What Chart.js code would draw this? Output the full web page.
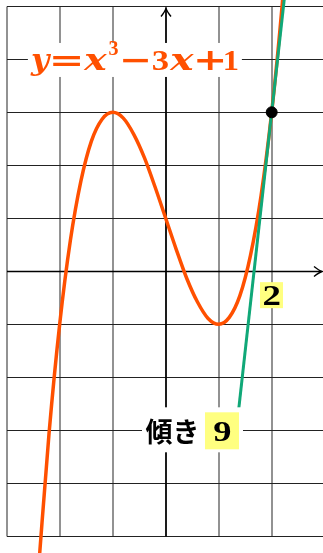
<!DOCTYPE html>
<html>
<head>
<meta charset="utf-8">
<script src="https://cdn.jsdelivr.net/npm/chart.js@4.4.1/dist/chart.umd.min.js"></script>
<style>
html, body { margin: 0; padding: 0; background: #fff; overflow: hidden; }
#wrap { width: 323px; height: 553px; }
</style>
</head>
<body>
<div id="wrap"><canvas id="chart"></canvas></div>
<script>
// y = x^3 - 3x + 1
var curveX = [-2.4, -2.2, -2.0, -1.8, -1.6, -1.4, -1.2, -1.0, -0.8, -0.6, -0.4, -0.2, 0,
              0.2, 0.4, 0.6, 0.8, 1.0, 1.2, 1.4, 1.6, 1.8, 2.0, 2.2, 2.4];
var curveY = [-5.62, -3.05, -1.00, 0.57, 1.70, 2.46, 2.87, 3.00, 2.89, 2.58, 2.14, 1.59, 1.00,
              0.41, -0.14, -0.58, -0.89, -1.00, -0.87, -0.46, 0.30, 1.43, 3.00, 5.05, 7.62];

// tangent at x = 2, slope 9
var tangentX = [1.376, 2.3];
var tangentY = [-2.62, 5.7];

var pointX = [2];
var pointY = [3];

var gridX = [-3, -2, -1, 0, 1, 2, 3];
var gridY = [-5, -4, -3, -2, -1, 0, 1, 2, 3, 4, 5];

var slopeText = '傾き';
var slopeValue = '9';
var pointLabel = '2';

function pairs(xs, ys)
{
    return xs.map(function (x, i)
    {
        return { x: x, y: ys[i] };
    });
}

// draws text centred on cx, stretched to width w
function fitted(ctx, text, font, cx, base, w)
{
    ctx.save();
    ctx.font = font;
    ctx.textAlign = 'left';
    var m = ctx.measureText(text);
    var gw = m.actualBoundingBoxLeft + m.actualBoundingBoxRight;
    var c = (m.actualBoundingBoxRight - m.actualBoundingBoxLeft) / 2;
    ctx.translate(cx, base);
    ctx.scale(w ? w / gw : 1, 1);
    ctx.fillText(text, -c, 0);
    ctx.restore();
}

var digits = '"Liberation Serif", serif';
var letters = '"DejaVu Serif", serif';

var gridPlugin = {
    id: 'grid',
    beforeDatasetsDraw: function (chart)
    {
        var ctx = chart.ctx, sx = chart.scales.x, sy = chart.scales.y;
        var left = Math.round(sx.getPixelForValue(gridX[0]));
        var right = chart.chartArea.right;
        var top = Math.round(sy.getPixelForValue(gridY[gridY.length - 1])) + 0.5;
        var bottom = Math.round(sy.getPixelForValue(gridY[0])) + 0.5;

        ctx.save();
        ctx.lineWidth = 1.6;
        ctx.strokeStyle = '#777';
        gridX.forEach(function (v)
        {
            var px = Math.round(sx.getPixelForValue(v));
            ctx.beginPath();
            ctx.moveTo(px, top);
            ctx.lineTo(px, bottom);
            ctx.stroke();
        });

        ctx.lineWidth = 1.2;
        ctx.strokeStyle = '#222';
        gridY.forEach(function (v)
        {
            var py = Math.round(sy.getPixelForValue(v)) + 0.5;
            ctx.beginPath();
            ctx.moveTo(left, py);
            ctx.lineTo(right, py);
            ctx.stroke();
        });

        // axes with arrow heads
        var ox = Math.round(sx.getPixelForValue(0));
        var oy = Math.round(sy.getPixelForValue(0)) + 0.5;
        ctx.strokeStyle = '#000';
        ctx.lineWidth = 1.6;
        ctx.beginPath();
        ctx.moveTo(left, oy);
        ctx.lineTo(right - 1.5, oy);
        ctx.moveTo(ox, bottom);
        ctx.lineTo(ox, top + 2);
        ctx.stroke();

        ctx.lineWidth = 1.4;
        ctx.beginPath();
        ctx.moveTo(right - 9, oy - 5);
        ctx.quadraticCurveTo(right - 4, oy - 1, right - 1, oy);
        ctx.quadraticCurveTo(right - 4, oy + 1, right - 9, oy + 5);
        ctx.moveTo(ox - 5, top + 10);
        ctx.quadraticCurveTo(ox - 1, top + 5, ox, top + 2);
        ctx.quadraticCurveTo(ox + 1, top + 5, ox + 5, top + 10);
        ctx.stroke();
        ctx.restore();
    }
};

var labelPlugin = {
    id: 'labels',
    afterDatasetsDraw: function (chart)
    {
        var ctx = chart.ctx, sx = chart.scales.x, sy = chart.scales.y;
        ctx.save();
        ctx.textBaseline = 'alphabetic';

        // formula
        var fx = sx.getPixelForValue(-0.6), fy = sy.getPixelForValue(3.95);
        ctx.fillStyle = '#fff';
        ctx.fillRect(fx - 106, fy - 19, 214, 34);
        ctx.fillStyle = '#ff5000';
        fitted(ctx, 'y', 'italic bold 30px ' + letters, fx - 92.9, fy + 8.5, 22);
        fitted(ctx, '=', 'bold 30px ' + letters, fx - 67.4, fy + 8.5, 27);
        fitted(ctx, 'x', 'italic bold 30px ' + letters, fx - 38.4, fy + 8.5, 25);
        fitted(ctx, '3', 'bold 22px ' + digits, fx - 20.4, fy - 7, 10);
        fitted(ctx, '\u2212', 'bold 30px ' + letters, fx + 1.6, fy + 8.5, 25);
        fitted(ctx, '3', 'bold 30px ' + digits, fx + 26.6, fy + 8.5, 15);
        fitted(ctx, 'x', 'italic bold 30px ' + letters, fx + 48.1, fy + 8.5, 26);
        fitted(ctx, '+', 'bold 30px ' + letters, fx + 76.1, fy + 8.5, 26);
        fitted(ctx, '1', 'bold 30px ' + digits, fx + 97.6, fy + 8.5, 13);

        // "2" under the tangent point
        var tx = sx.getPixelForValue(2), ty = sy.getPixelForValue(-0.45);
        ctx.fillStyle = '#ffff80';
        ctx.fillRect(tx - 11.7, ty - 13, 23, 26);
        ctx.fillStyle = '#000';
        fitted(ctx, pointLabel, 'bold 30px ' + digits, tx, ty + 10, 16);

        // slope
        var lx = sx.getPixelForValue(0.6), ly = sy.getPixelForValue(-3);
        ctx.fillStyle = '#fff';
        ctx.fillRect(lx - 55.5, ly - 23, 101, 45);
        ctx.fillStyle = '#ffff80';
        ctx.fillRect(lx + 7.5, ly - 18, 34, 37);
        ctx.fillStyle = '#000';
        ctx.font = 'bold 27px "Noto Sans CJK JP"';
        ctx.textAlign = 'center';
        ctx.textBaseline = 'middle';
        ctx.fillText(slopeText, lx - 25, ly + 1);
        ctx.textBaseline = 'alphabetic';
        fitted(ctx, slopeValue, 'bold 30px ' + digits, lx + 24.2, ly + 11, 17);
        ctx.restore();
    }
};

new Chart(document.getElementById('chart'), {
    type: 'scatter',
    data: {
        datasets: [
            {
                data: pairs(pointX, pointY),
                backgroundColor: '#000',
                borderColor: '#000',
                pointRadius: 5.5,
                order: 0
            },
            {
                data: pairs(tangentX, tangentY),
                showLine: true,
                borderColor: '#10a878',
                borderWidth: 3,
                pointRadius: 0,
                order: 1
            },
            {
                data: pairs(curveX, curveY),
                showLine: true,
                borderColor: '#ff5000',
                borderWidth: 3.5,
                pointRadius: 0,
                cubicInterpolationMode: 'monotone',
                order: 2
            }
        ]
    },
    options: {
        responsive: true,
        maintainAspectRatio: false,
        animation: false,
        devicePixelRatio: 1,
        layout: { padding: 0, autoPadding: false },
        plugins: { legend: { display: false }, tooltip: { enabled: false } },
        scales: {
            x: { type: 'linear', min: -3.126, max: 2.968, display: false },
            y: { type: 'linear', min: -5.315, max: 5.119, display: false }
        }
    },
    plugins: [gridPlugin, labelPlugin]
});
</script>
</body>
</html>
